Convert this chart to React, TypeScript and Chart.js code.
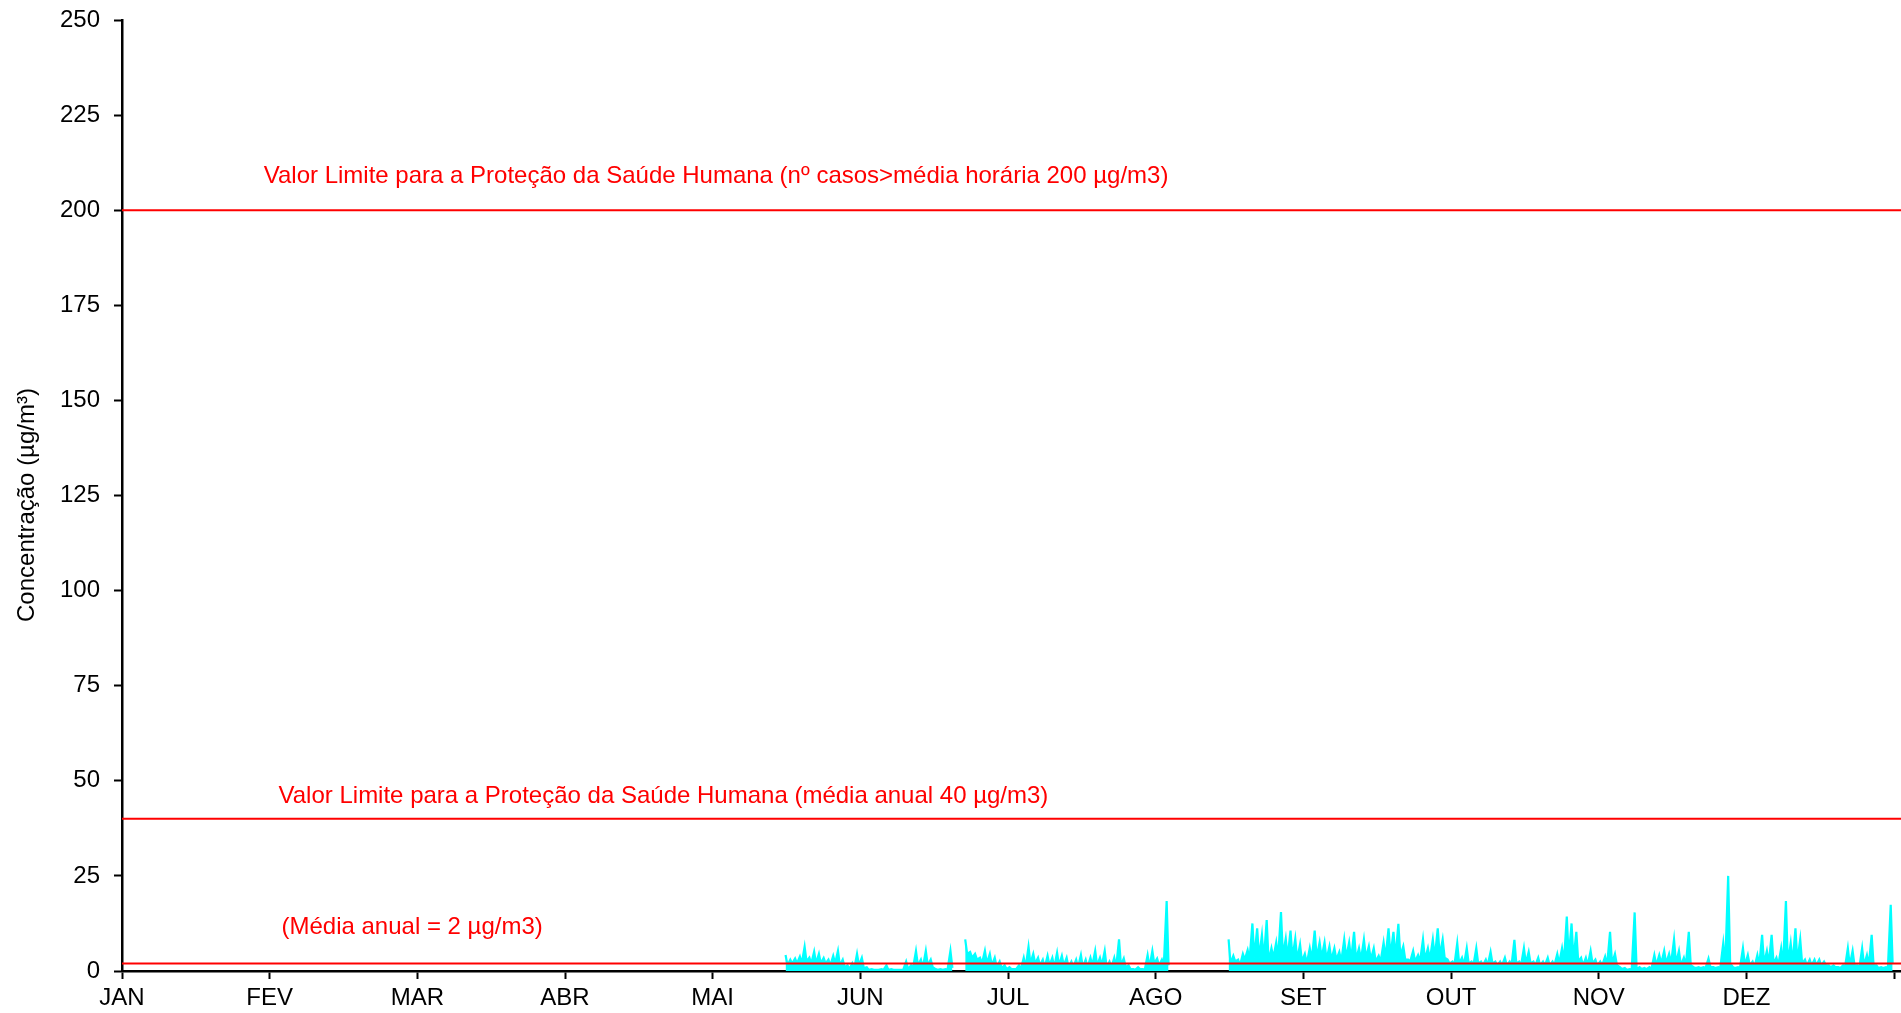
import React, { useEffect, useRef } from 'react';
import { Chart, registerables } from 'chart.js';

Chart.register(...registerables);

// ---------- data ----------
const monthLabels = ['JAN', 'FEV', 'MAR', 'ABR', 'MAI', 'JUN', 'JUL', 'AGO', 'SET', 'OUT', 'NOV', 'DEZ', ''];
const monthDays = [31, 28, 31, 30, 31, 30, 31, 31, 30, 31, 30, 31];
const yTickValues = [0, 25, 50, 75, 100, 125, 150, 175, 200, 225, 250];

const limitHourly = 200;
const limitAnnual = 40;
const annualMean = 2;

const labelHourly = 'Valor Limite para a Proteção da Saúde Humana (nº casos>média horária 200 µg/m3)';
const labelAnnual = 'Valor Limite para a Proteção da Saúde Humana (média anual 40 µg/m3)';
const labelMean = '(Média anual = 2 µg/m3)';
const yTitle = 'Concentração (µg/m³)';

// daily maxima / typical daily level (µg/m3), read from the record; null = no data
const mayPeak = [4.2, 3.0, 3.3, 3.8, 6.4, 3.5, 5.1, 4.5, 3.4, 3.0, 4.0, 5.3, 3.0, 1.5, 2.0, 4.5];
const mayLow = [1.5, 2.0, 2.0, 2.0, 2.5, 2.0, 2.0, 2.0, 2.0, 1.5, 2.0, 1.5, 1.0, 0.5, 0.5, 1.5];

const junPeak = [3.5, 1.0, 0.5, 0.3, 0.5, 1.5, 0.5, 0.3, 0.3, 2.5, 1.5, 5.3, 3.0, 5.3, 3.0, 0.5, 0.5, 0.5, 5.3, null, null, 8.3, 5.0, 4.5, 3.5, 5.3, 4.5, 3.5, 2.5, 1.5];
const junLow = [0.8, 0.3, 0.3, 0.3, 0.3, 0.3, 0.3, 0.3, 0.3, 0.5, 0.8, 1.5, 1.0, 1.5, 1.0, 0.3, 0.3, 0.3, 0.8, null, null, 4.5, 3.5, 3.0, 2.0, 2.0, 1.5, 1.0, 0.8, 0.5];

const julPeak = [1.0, 0.5, 1.5, 3.5, 6.4, 4.5, 3.5, 3.0, 4.0, 3.5, 4.8, 4.0, 3.5, 2.5, 3.0, 4.2, 3.0, 3.5, 5.3, 3.5, 5.3, 2.5, 3.5, 8.3, 3.3, 1.5, 0.5, 1.0, 0.5, 4.2, 5.3];
const julLow = [0.5, 0.5, 0.5, 1.0, 2.0, 2.0, 1.5, 1.0, 1.5, 1.0, 1.5, 1.5, 1.0, 1.0, 1.0, 1.0, 1.0, 1.5, 1.5, 1.5, 1.0, 1.0, 1.0, 1.5, 1.0, 0.5, 0.3, 0.5, 0.3, 1.0, 2.0];

const agoPeak = [3.3, 3.0, 18.4, null, null, null, null, null, null, null, null, null, null, null, null, 8.3, 4.0, 3.0, 4.5, 5.5, 12.5, 11.2, 9.5, 13.4, 6.0, 7.5, 15.5, 8.5, 10.6, 8.5, 7.0];
const agoLow = [1.5, 1.5, 1.5, null, null, null, null, null, null, null, null, null, null, null, null, 2.0, 2.5, 1.5, 3.0, 3.0, 3.5, 3.5, 3.0, 2.5, 3.5, 3.5, 4.0, 3.5, 3.5, 3.0, 2.5];

const setPeak = [4.5, 6.0, 10.6, 7.5, 7.5, 6.5, 6.0, 5.0, 8.3, 7.5, 10.3, 6.0, 8.3, 6.5, 6.0, 4.0, 7.5, 11.2, 10.3, 12.4, 6.5, 3.0, 5.3, 4.2, 8.3, 6.0, 8.3, 11.2, 8.3, 3.0];
const setLow = [2.0, 3.0, 3.5, 3.5, 3.0, 3.0, 3.0, 2.5, 3.5, 3.0, 3.0, 3.0, 3.5, 3.0, 2.5, 2.5, 3.5, 4.0, 3.5, 4.0, 3.0, 2.5, 2.5, 2.5, 3.0, 3.0, 3.5, 4.0, 3.5, 2.0];

const outPeak = [2.5, 7.3, 3.5, 6.0, 2.5, 6.0, 2.5, 3.0, 5.0, 2.5, 2.5, 3.5, 2.5, 8.2, 2.5, 6.0, 5.0, 2.5, 3.5, 2.5, 3.5, 2.5, 4.5, 6.0, 14.3, 12.5, 10.3, 3.5, 3.5, 5.3, 3.0];
const outLow = [1.5, 2.0, 1.5, 2.0, 1.5, 2.0, 1.5, 1.5, 2.0, 1.5, 1.5, 1.5, 1.5, 2.0, 1.5, 2.0, 2.0, 1.5, 1.5, 1.5, 1.5, 1.5, 2.0, 2.5, 3.5, 3.0, 2.5, 1.5, 1.5, 2.0, 1.5];

const novPeak = [2.5, 3.8, 10.3, 4.5, 1.0, 0.8, 0.5, 15.4, 1.0, 0.8, 1.0, 4.2, 4.2, 5.3, 4.5, 8.3, 5.3, 3.5, 10.3, 1.0, 1.0, 1.0, 3.3, 1.0, 1.0, 7.3, 25.0, 1.0, 1.0, 6.0];
const novLow = [1.5, 1.5, 2.0, 1.5, 0.5, 0.3, 0.3, 0.5, 0.5, 0.5, 0.5, 1.5, 2.0, 2.0, 2.0, 2.0, 1.5, 1.5, 1.5, 0.8, 0.8, 0.8, 1.0, 0.8, 0.8, 1.5, 2.0, 0.8, 0.8, 1.5];

const dezPeak = [4.2, 2.5, 4.2, 9.5, 5.3, 9.5, 3.5, 6.0, 18.4, 7.3, 11.2, 8.3, 3.0, 3.0, 3.0, 3.0, 2.5, 1.5, 1.5, 1.0, 1.5, 6.0, 5.3, 1.5, 6.0, 4.2, 9.5, 1.5, 1.0, 1.0, 17.4];
const dezLow = [1.5, 1.0, 1.5, 2.0, 2.0, 2.0, 1.5, 1.5, 2.0, 2.0, 2.5, 2.0, 1.5, 1.5, 1.5, 1.5, 1.5, 1.0, 1.0, 0.8, 1.0, 1.5, 1.5, 0.8, 1.5, 1.5, 1.5, 0.8, 0.8, 0.8, 2.0];

const seriesMonths = [
  { month: 4, startDay: 15, peak: mayPeak, low: mayLow },
  { month: 5, startDay: 0, peak: junPeak, low: junLow },
  { month: 6, startDay: 0, peak: julPeak, low: julLow },
  { month: 7, startDay: 0, peak: agoPeak, low: agoLow },
  { month: 8, startDay: 0, peak: setPeak, low: setLow },
  { month: 9, startDay: 0, peak: outPeak, low: outLow },
  { month: 10, startDay: 0, peak: novPeak, low: novLow },
  { month: 11, startDay: 0, peak: dezPeak, low: dezLow },
];

// ---------- build chart data ----------
function buildSeries() {
  const pts: { x: number; y: number | null }[] = [];
  for (const s of seriesMonths) {
    const D = monthDays[s.month];
    s.peak.forEach((p, i) => {
      const d = s.startDay + i;
      pts.push({ x: s.month + (d + 0.3) / D, y: p });
      pts.push({ x: s.month + (d + 0.7) / D, y: s.low[i] });
    });
  }
  return pts;
}

const X_MAX = 12.047;
const FONT = '"Liberation Sans", Arial, sans-serif';

const textPlugin = {
  id: 'annotTexts',
  afterDatasetsDraw(chart: any) {
    const { ctx, scales } = chart;
    const xs = scales.x;
    const ys = scales.y;
    ctx.save();
    ctx.fillStyle = '#ff0000';
    ctx.font = `24px ${FONT}`;
    ctx.textAlign = 'left';
    ctx.textBaseline = 'middle';
    ctx.fillText(labelHourly, xs.getPixelForValue(0.96), ys.getPixelForValue(209));
    ctx.fillText(labelAnnual, xs.getPixelForValue(1.06), ys.getPixelForValue(45.9));
    ctx.fillText(labelMean, xs.getPixelForValue(1.08), ys.getPixelForValue(11.4));
    ctx.restore();

    // y axis title
    ctx.save();
    ctx.fillStyle = '#000';
    ctx.font = `24px ${FONT}`;
    ctx.textAlign = 'center';
    ctx.textBaseline = 'middle';
    ctx.translate(ys.left + 27, ys.getPixelForValue(122.5));
    ctx.rotate(-Math.PI / 2);
    ctx.fillText(yTitle, 0, 0);
    ctx.restore();
  },
};

export default function App() {
  const ref = useRef<HTMLCanvasElement | null>(null);

  useEffect(() => {
    if (!ref.current) return;
    const series = buildSeries();
    const hLine = (v: number) => [
      { x: 0, y: v },
      { x: X_MAX, y: v },
    ];
    const chart = new Chart(ref.current, {
      type: 'line',
      data: {
        datasets: [
          { data: hLine(limitHourly), borderColor: '#ff0000', borderWidth: 2, pointRadius: 0, order: 0 },
          { data: hLine(limitAnnual), borderColor: '#ff0000', borderWidth: 2, pointRadius: 0, order: 0 },
          { data: hLine(annualMean), borderColor: '#ff0000', borderWidth: 2, pointRadius: 0, order: 0 },
          {
            data: series as any,
            borderColor: '#00ffff',
            backgroundColor: '#00ffff',
            fill: 'origin',
            borderWidth: 2.2,
            borderJoinStyle: 'miter',
            pointRadius: 0,
            spanGaps: false,
            tension: 0,
            order: 1,
          },
        ],
      },
      options: {
        responsive: false,
        animation: false,
        events: [],
        layout: { padding: { top: 20, left: 0, right: 0, bottom: 0 } },
        plugins: { legend: { display: false }, tooltip: { enabled: false }, title: { display: false } },
        scales: {
          x: {
            type: 'linear',
            min: 0,
            max: X_MAX,
            afterBuildTicks: (scale: any) => {
              scale.ticks = monthLabels.map((_, i) => ({ value: i }));
            },
            afterFit: (scale: any) => {
              scale.height = 42;
              scale.paddingLeft = 0;
              scale.paddingRight = 0;
            },
            border: { display: true, color: '#000', width: 2.5 },
            grid: { drawOnChartArea: false, drawTicks: true, tickLength: 8, tickWidth: 2, tickColor: '#000' },
            ticks: {
              autoSkip: false,
              maxRotation: 0,
              padding: 5,
              color: '#000',
              font: { family: FONT, size: 24 },
              callback: (v: any) => monthLabels[Math.round(Number(v))] ?? '',
            },
          },
          y: {
            type: 'linear',
            min: 0,
            max: 250,
            afterBuildTicks: (scale: any) => {
              scale.ticks = yTickValues.map((v) => ({ value: v }));
            },
            afterFit: (scale: any) => {
              scale.width = 122;
              scale.paddingTop = 12;
              scale.paddingBottom = 12;
            },
            border: { display: true, color: '#000', width: 2.5 },
            grid: { drawOnChartArea: false, drawTicks: true, tickLength: 8, tickWidth: 2, tickColor: '#000' },
            ticks: {
              padding: 14,
              color: '#000',
              font: { family: FONT, size: 24 },
            },
          },
        },
      },
      plugins: [textPlugin],
    });
    return () => chart.destroy();
  }, []);

  return (
    <div style={{ position: 'fixed', left: 0, top: 0, width: 1901, height: 1013, background: '#fff' }}>
      <canvas ref={ref} width={1901} height={1013} style={{ display: 'block', width: 1901, height: 1013 }} />
    </div>
  );
}
